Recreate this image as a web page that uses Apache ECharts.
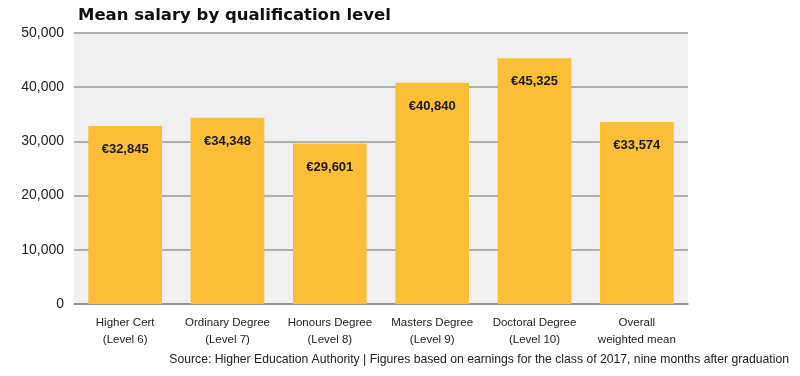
<!DOCTYPE html>
<html>
<head>
<meta charset="utf-8">
<script src="https://cdn.jsdelivr.net/npm/echarts@6/dist/echarts.min.js"></script>
<style>
  html, body { margin: 0; padding: 0; background: #fff; }
  #chart { width: 800px; height: 376px; }
</style>
</head>
<body>
<div id="chart"></div>
<script>
var categories = [
    'Higher Cert\n(Level 6)',
    'Ordinary Degree\n(Level 7)',
    'Honours Degree\n(Level 8)',
    'Masters Degree\n(Level 9)',
    'Doctoral Degree\n(Level 10)',
    'Overall\nweighted mean'
];
var salaries = [32845, 34348, 29601, 40840, 45325, 33574];
var yTicks = [0, 10000, 20000, 30000, 40000, 50000];

var myChart = echarts.init(document.getElementById('chart'));

var option = {
    animation: false,
    title: [
        {
            text: 'Mean salary by qualification level',
            left: 73,
            top: 2,
            textStyle: {
                fontFamily: 'DejaVu Sans',
                fontWeight: 'bold',
                fontSize: 16.5,
                color: '#111'
            }
        },
        {
            text: 'Source: Higher Education Authority | Figures based on earnings for the class of 2017, nine months after graduation',
            right: 6,
            top: 349,
            textStyle: {
                fontFamily: 'Liberation Sans',
                fontWeight: 'normal',
                fontSize: 12.2,
                color: '#222'
            }
        }
    ],
    grid: {
        left: 74,
        right: 112,
        top: 33,
        bottom: 72,
        show: true,
        backgroundColor: '#f0f0f0',
        borderWidth: 0
    },
    xAxis: {
        type: 'category',
        data: categories,
        axisLine: { lineStyle: { color: '#8c8c8c', width: 1.5 } },
        axisTick: { inside: true, length: 5, lineStyle: { color: '#8c8c8c' } },
        axisLabel: {
            interval: 0,
            fontFamily: 'Liberation Sans',
            fontSize: 11.5,
            color: '#222',
            lineHeight: 17,
            margin: 10
        }
    },
    yAxis: {
        type: 'value',
        min: yTicks[0],
        max: yTicks[yTicks.length - 1],
        interval: 10000,
        axisLine: { show: false },
        axisTick: { show: false },
        axisLabel: {
            fontFamily: 'Liberation Sans',
            fontSize: 14,
            color: '#222',
            margin: 10,
            formatter: function (v) { return v.toLocaleString('en-US'); }
        },
        splitLine: { lineStyle: { color: '#9a9a9a', width: 1.5 } }
    },
    series: [
        {
            type: 'bar',
            data: salaries,
            barWidth: '72%',
            itemStyle: { color: '#fcbd37' },
            label: {
                show: true,
                position: 'insideTop',
                distance: 17,
                fontFamily: 'Liberation Sans',
                fontWeight: 'bold',
                fontSize: 13,
                color: '#1a1a1a',
                formatter: function (p) { return '€' + p.value.toLocaleString('en-US'); }
            }
        }
    ]
};
myChart.setOption(option);
</script>
</body>
</html>
